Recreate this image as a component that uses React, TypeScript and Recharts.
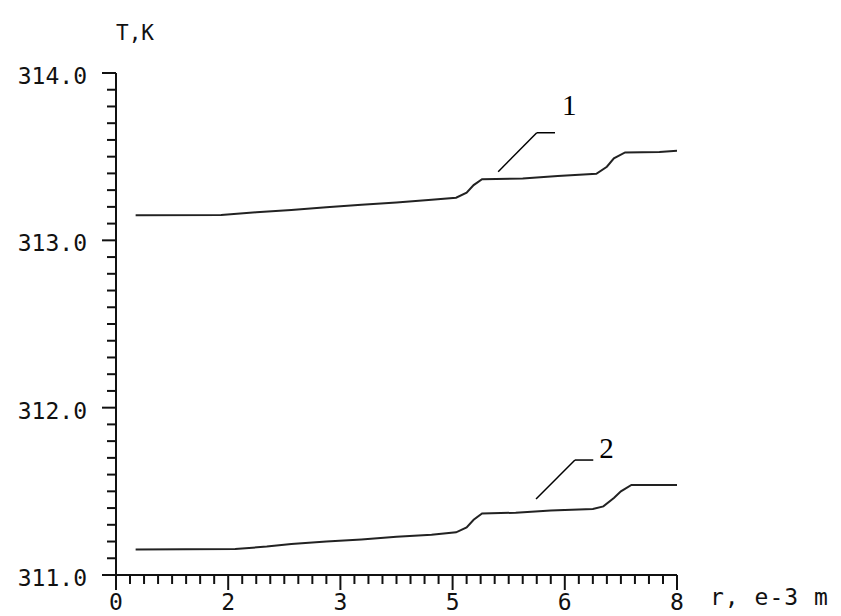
import { LineChart, Line, XAxis, YAxis, ReferenceLine, ReferenceDot } from 'recharts'

// curve 1 (upper) and curve 2 (lower)
const r1 = [0.28, 1.5, 2.0, 2.5, 3.0, 3.5, 4.0, 4.5, 4.85, 5.0, 5.1, 5.22, 5.8, 6.3, 6.85, 7.0, 7.1, 7.26, 7.75, 8.0]
const t1 = [313.15, 313.152, 313.168, 313.182, 313.198, 313.212, 313.226, 313.242, 313.255, 313.285, 313.33, 313.365, 313.37, 313.385, 313.398, 313.44, 313.49, 313.525, 313.528, 313.535]

const r2 = [0.28, 1.7, 2.15, 2.5, 3.0, 3.5, 4.0, 4.5, 4.85, 5.0, 5.1, 5.22, 5.7, 6.2, 6.8, 6.95, 7.1, 7.2, 7.35, 8.0]
const t2 = [311.152, 311.155, 311.17, 311.185, 311.2, 311.212, 311.228, 311.24, 311.255, 311.285, 311.33, 311.368, 311.372, 311.385, 311.395, 311.41, 311.46, 311.5, 311.538, 311.538]

const xMajorTicks = [0, 1.6, 3.2, 4.8, 6.4, 8]
const xTickLabels = ['0', '2', '3', '5', '6', '8']
const yMajorTicks = [311, 312, 313, 314]
const yTickLabels = ['311.0', '312.0', '313.0', '314.0']

// minor ticks every 0.2 on r and 0.1 on T
const xTicks = Array.from({ length: 41 }, (_, i) => Math.round(i * 2) / 10)
const yTicks = Array.from({ length: 31 }, (_, i) => Math.round((311 + i * 0.1) * 10) / 10)

// leader lines and curve numbers
const leaders = [
  { label: '1', from: { x: 5.45, y: 313.41 }, knee: { x: 6.0, y: 313.643 }, end: { x: 6.26, y: 313.643 }, text: { x: 6.464, y: 313.812 } },
  { label: '2', from: { x: 5.99, y: 311.454 }, knee: { x: 6.545, y: 311.687 }, end: { x: 6.806, y: 311.687 }, text: { x: 6.995, y: 311.759 } },
]

const curve1 = r1.map((r, i) => ({ r, t: t1[i] }))
const curve2 = r2.map((r, i) => ({ r, t: t2[i] }))

const ink = '#111'
const mono = '"DejaVu Sans Mono", monospace'

function YTick(props: any) {
  const { x, y, payload } = props
  const idx = yMajorTicks.findIndex((m) => Math.abs(m - payload.value) < 1e-6)
  const major = idx >= 0
  return (
    <g>
      <line x1={x - (major ? 14 : 9)} x2={x} y1={y} y2={y} stroke={ink} strokeWidth={2} />
      {major && (
        <text x={x - 29} y={y + 3} textAnchor="end" dominantBaseline="central" fontFamily={mono} fontSize={23} fill={ink}>
          {yTickLabels[idx]}
        </text>
      )}
    </g>
  )
}

function XTick(props: any) {
  const { x, y, payload } = props
  const idx = xMajorTicks.findIndex((m) => Math.abs(m - payload.value) < 1e-6)
  const major = idx >= 0
  return (
    <g>
      <line x1={x} x2={x} y1={y} y2={y + (major ? 15 : 9)} stroke={ink} strokeWidth={2} />
      {major && (
        <text x={x} y={y + 27} textAnchor="middle" dominantBaseline="central" fontFamily={mono} fontSize={23} fill={ink}>
          {xTickLabels[idx]}
        </text>
      )}
    </g>
  )
}

export default function App() {
  return (
    <div style={{ position: 'absolute', left: 0, top: 0, width: 841, height: 616, background: '#fff' }}>
      <LineChart width={841} height={616} margin={{ top: 73, right: 164, bottom: 0, left: 16 }}>
        <XAxis
          dataKey="r"
          type="number"
          domain={[0, 8]}
          ticks={xTicks}
          interval={0}
          tick={<XTick />}
          tickSize={0}
          tickMargin={0}
          tickLine={false}
          axisLine={{ stroke: ink, strokeWidth: 2 }}
          height={41}
          label={{
            content: (p: any) => {
              const vb = p.viewBox || { x: 116, y: 575, width: 561 }
              return (
                <text x={vb.x + vb.width + 33} y={vb.y + 22} dominantBaseline="central" fontFamily={mono} fontSize={23} fill={ink} letterSpacing={1}>
                  r, e-3 m
                </text>
              )
            },
          }}
        />
        <YAxis
          type="number"
          domain={[311, 314]}
          ticks={yTicks}
          interval={0}
          tick={<YTick />}
          tickSize={0}
          tickMargin={0}
          tickLine={false}
          axisLine={{ stroke: ink, strokeWidth: 2 }}
          width={100}
          label={{
            content: (p: any) => {
              const vb = p.viewBox || { x: 16, y: 73, width: 100 }
              return (
                <text x={vb.x + vb.width} y={vb.y - 40} dominantBaseline="central" fontFamily={mono} fontSize={21} fill={ink}>
                  T,K
                </text>
              )
            },
          }}
        />
        <Line data={curve1} dataKey="t" type="linear" stroke="#222" strokeWidth={2} dot={false} isAnimationActive={false} />
        <Line data={curve2} dataKey="t" type="linear" stroke="#222" strokeWidth={2} dot={false} isAnimationActive={false} />
        {leaders.map((l) => (
          <ReferenceLine key={l.label + 'a'} segment={[l.from, l.knee]} stroke="#000" strokeWidth={1.5} />
        ))}
        {leaders.map((l) => (
          <ReferenceLine key={l.label + 'b'} segment={[l.knee, l.end]} stroke="#000" strokeWidth={1.5} />
        ))}
        {leaders.map((l) => (
          <ReferenceDot
            key={l.label + 'c'}
            x={l.text.x}
            y={l.text.y}
            r={0}
            stroke="none"
            fill="none"
            label={{ value: l.label, position: 'center', fontSize: 29, fontFamily: '"Liberation Serif", serif', fill: '#000' }}
          />
        ))}
      </LineChart>
    </div>
  )
}
